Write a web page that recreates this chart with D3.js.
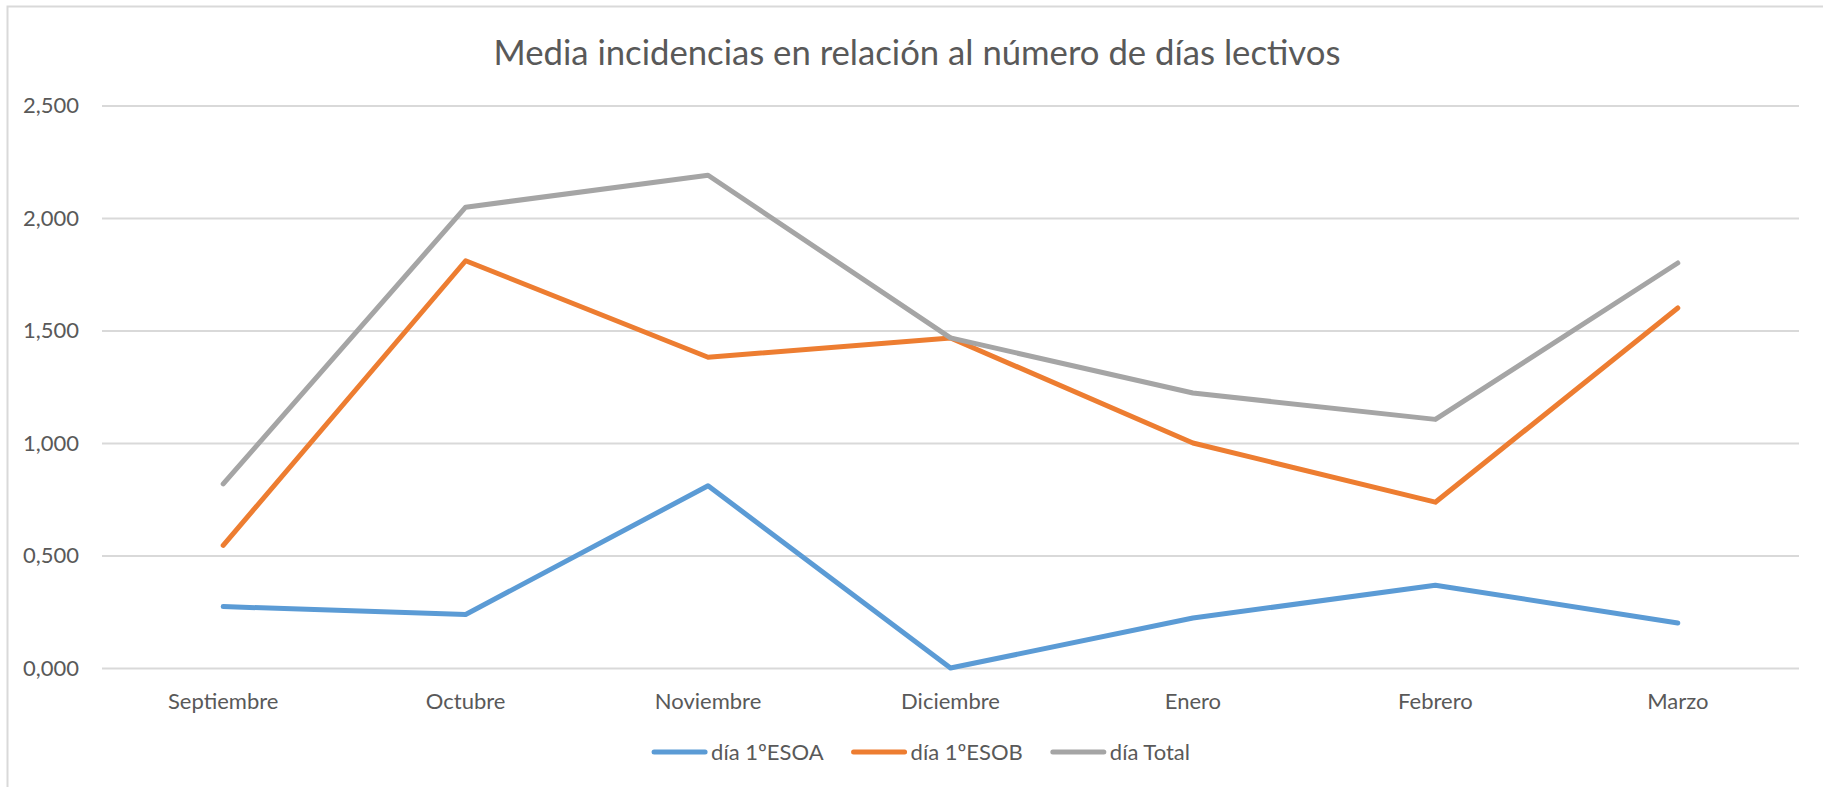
<!DOCTYPE html>
<html>
<head>
<meta charset="utf-8">
<script src="https://cdn.jsdelivr.net/npm/d3@7"></script>
<style>
    body { margin: 0; background: #ffffff; }
    text { font-family: "Lato", "Open Sans", sans-serif; fill: #595959; }
</style>
</head>
<body>
<div id="chart"></div>
<script>
// data
var months = ["Septiembre", "Octubre", "Noviembre", "Diciembre", "Enero", "Febrero", "Marzo"];
var esoA = [0.273, 0.238, 0.810, 0.000, 0.222, 0.368, 0.200];
var esoB = [0.545, 1.810, 1.381, 1.467, 1.000, 0.737, 1.600];
var total = [0.818, 2.048, 2.190, 1.467, 1.222, 1.105, 1.800];
var seriesNames = ["día 1ºESOA", "día 1ºESOB", "día Total"];
var yTicks = [0, 0.5, 1, 1.5, 2, 2.5];
var title = "Media incidencias en relación al número de días lectivos";

var colors = ["#5B9BD5", "#ED7D31", "#A5A5A5"];
var series = [esoA, esoB, total];

var svgWidth = 1823, svgHeight = 787;
var margin = {top: 105.5, right: 24, bottom: 119, left: 102};

var svg = d3.select("#chart")
    .append("svg")
    .attr("width", svgWidth)
    .attr("height", svgHeight);

// chart area border (only left and top are inside the picture)
svg.append("rect")
    .attr("x", 7.5)
    .attr("y", 6.5)
    .attr("width", 1830)
    .attr("height", 800)
    .attr("fill", "#ffffff")
    .attr("stroke", "#D9D9D9")
    .attr("stroke-width", 2);

var xScale = d3.scaleBand()
    .domain(months)
    .range([margin.left, svgWidth - margin.right]);

var yScale = d3.scaleLinear()
    .domain([0, 2.5])
    .range([svgHeight - margin.bottom, margin.top]);

var locale = d3.formatLocale({decimal: ",", thousands: ".", grouping: [3], currency: ["", "€"]});
var fmt = locale.format(".3f");

// y axis: gridlines + labels
var yAxis = d3.axisLeft(yScale)
    .tickValues(yTicks)
    .tickFormat(fmt)
    .tickSize(-(svgWidth - margin.right - margin.left))
    .tickPadding(23);

var yg = svg.append("g")
    .attr("transform", "translate(" + margin.left + ",0)")
    .call(yAxis);
yg.select(".domain").remove();
yg.selectAll(".tick line").attr("stroke", "#D9D9D9").attr("stroke-width", 2);
yg.selectAll(".tick text")
    .style("font-family", "Lato")
    .style("font-size", "22px")
    .attr("fill", "#595959");

// x axis labels
var xAxis = d3.axisBottom(xScale).tickSize(0).tickPadding(25);
var xg = svg.append("g")
    .attr("transform", "translate(0," + yScale(0) + ")")
    .call(xAxis);
xg.select(".domain").remove();
xg.selectAll(".tick text")
    .style("font-family", "Lato")
    .style("font-size", "22px")
    .attr("fill", "#595959");

// lines
var line = d3.line()
    .x((d, i) => xScale(months[i]) + xScale.bandwidth() / 2)
    .y(d => yScale(d));

svg.selectAll("path.serie").data(series)
    .enter()
    .append("path")
    .attr("class", "serie")
    .attr("d", d => line(d))
    .attr("fill", "none")
    .attr("stroke", (d, i) => colors[i])
    .attr("stroke-width", 5)
    .attr("stroke-linejoin", "round")
    .attr("stroke-linecap", "round");

// title
svg.append("text")
    .attr("x", 917)
    .attr("y", 65)
    .attr("text-anchor", "middle")
    .style("font-size", "34.7px")
    .text(title);

// legend, centred under the chart
var legend = svg.append("g");
var lineLen = 51, textGap = 6, itemGap = 30, legendY = 752;
var items = legend.selectAll("g").data(seriesNames).enter().append("g");
items.append("line")
    .attr("x1", 0).attr("x2", lineLen)
    .attr("y1", 0).attr("y2", 0)
    .attr("stroke", (d, i) => colors[i])
    .attr("stroke-width", 5)
    .attr("stroke-linecap", "round");
items.append("text")
    .attr("x", lineLen + textGap)
    .attr("dy", "0.35em")
    .style("font-size", "22px")
    .text(d => d);

var xpos = 0;
items.each(function () {
    var w = lineLen + textGap + d3.select(this).select("text").node().getComputedTextLength();
    d3.select(this).attr("transform", "translate(" + xpos + ",0)");
    xpos += w + itemGap;
});
var legendWidth = xpos - itemGap;
legend.attr("transform", "translate(" + (922 - legendWidth / 2) + "," + legendY + ")");
</script>
</body>
</html>
